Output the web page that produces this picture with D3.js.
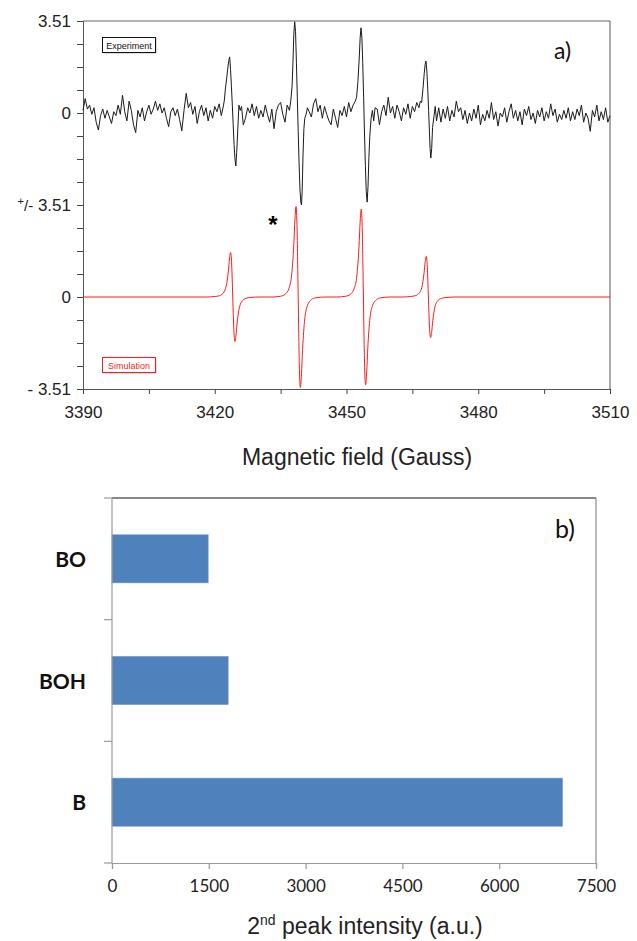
<!DOCTYPE html>
<html>
<head>
<meta charset="utf-8">
<script src="https://cdnjs.cloudflare.com/ajax/libs/d3/7.8.5/d3.min.js"></script>
<style>
  body { margin: 0; background: #fff; }
  svg { display: block; }
</style>
</head>
<body>
<div id="chart"></div>
<script>

// Panel a: EPR spectra, [field (G), intensity]
var experiment = [
  [3390.0, 0.10],[3390.5, 0.55],[3391.0, 0.15],[3391.5, 0.30],[3392.0,-0.05],[3392.5, 0.20],[3393.0,-0.35],[3393.5,-0.65],[3394.0,-0.10],[3394.5, 0.15],
  [3395.0,-0.20],[3395.5, 0.10],[3396.0,-0.15],[3396.5,-0.40],[3397.0, 0.05],[3397.5,-0.10],[3398.0, 0.30],[3398.5,-0.05],[3399.0, 0.68],[3399.5, 0.05],
  [3400.0,-0.30],[3400.5, 0.45],[3401.0, 0.10],[3401.5,-0.45],[3402.0,-0.75],[3402.5, 0.10],[3403.0,-0.15],[3403.5, 0.20],[3404.0,-0.30],[3404.5, 0.05],
  [3405.0, 0.30],[3405.5,-0.05],[3406.0, 0.15],[3406.5, 0.45],[3407.0, 0.10],[3407.5, 0.35],[3408.0, 0.00],[3408.5, 0.20],[3409.0,-0.20],[3409.5,-0.52],
  [3410.0, 0.05],[3410.5, 0.20],[3411.0,-0.10],[3411.5, 0.15],[3412.0,-0.25],[3412.5,-0.68],[3413.0, 0.10],[3413.5, 0.75],[3414.0, 0.20],[3414.5, 0.40],
  [3415.0,-0.05],[3415.5, 0.25],[3416.0,-0.40],[3416.5, 0.05],[3417.0, 0.30],[3417.5,-0.10],[3418.0, 0.20],[3418.5,-0.30],[3419.0, 0.10],[3419.5,-0.20],
  [3420.0, 0.25],[3420.5, 0.05],[3421.0, 0.35],[3421.5,-0.10],[3422.0, 0.30],
  [3422.2, 0.50],[3422.4, 0.88],[3422.7, 1.30],[3423.0, 1.75],[3423.2, 2.00],[3423.4, 2.14],[3423.6, 1.65],[3423.8, 1.00],[3424.0, 0.30],[3424.2,-0.45],
  [3424.4,-1.20],[3424.6,-1.75],[3424.8,-2.02],[3425.0,-1.50],[3425.2,-0.80],[3425.5, 0.30],[3425.8, 0.10],[3426.1, 0.25],[3426.5,-0.45],
  [3427.0,-0.20],[3427.5, 0.20],[3428.0, 0.00],[3428.5, 0.35],[3429.0,-0.10],[3429.5, 0.25],[3430.0,-0.20],[3430.5, 0.10],[3431.0,-0.15],[3431.5, 0.30],
  [3432.0,-0.05],[3432.5,-0.35],[3433.0, 0.15],[3433.5,-0.60],[3434.0, 0.05],[3434.5, 0.30],[3435.0, 0.40],[3435.5,-0.05],[3436.0,-0.35],[3436.5, 0.30],
  [3437.0, 0.10],
  [3437.3, 0.45],[3437.6, 1.00],[3437.8, 1.90],[3438.0, 3.00],[3438.2, 3.48],[3438.4, 3.10],[3438.6, 1.90],[3438.8, 0.60],[3439.0,-0.70],[3439.2,-1.90],
  [3439.4,-2.90],[3439.6,-3.40],[3439.75,-3.51],[3439.9,-3.00],[3440.1,-1.60],[3440.3,-0.60],[3440.5,-0.20],[3440.8,-0.05],[3441.1, 0.20],[3441.5, 0.05],
  [3442.0,-0.15],[3442.5, 0.35],[3443.0, 0.55],[3443.5, 0.05],[3444.0, 0.30],[3444.5,-0.20],[3445.0, 0.25],[3445.5,-0.05],[3446.0,-0.30],[3446.5,-0.45],
  [3447.0, 0.15],[3447.5,-0.20],[3448.0,-0.55],[3448.5, 0.10],[3449.0,-0.10],[3449.5, 0.25],[3450.0,-0.15],[3450.5, 0.40],[3451.0, 0.05],[3451.5, 0.30],
  [3452.0, 0.45],
  [3452.3, 0.60],[3452.6, 1.20],[3452.9, 2.10],[3453.1, 2.85],[3453.3, 3.25],[3453.5, 2.90],[3453.7, 1.90],[3453.9, 0.60],[3454.1,-0.80],[3454.3,-2.00],
  [3454.5,-3.00],[3454.7,-3.40],[3454.9,-2.80],[3455.1,-1.70],[3455.3,-0.90],[3455.6,-0.20],[3455.9, 0.10],[3456.2,-0.30],[3456.5, 0.20],
  [3457.0, 0.15],[3457.5,-0.45],[3458.0, 0.05],[3458.5, 0.30],[3459.0,-0.10],[3459.5, 0.60],[3460.0, 0.00],[3460.5, 0.25],[3461.0,-0.20],[3461.5, 0.30],
  [3462.0, 0.05],[3462.5,-0.30],[3463.0, 0.20],[3463.5,-0.05],[3464.0, 0.35],[3464.5,-0.20],[3465.0, 0.25],[3465.5, 0.05],[3466.0, 0.40],[3466.5, 0.20],
  [3466.8, 0.45],[3467.1, 0.40],[3467.4, 0.90],[3467.7, 1.50],[3467.9, 1.85],[3468.1, 1.98],[3468.3, 1.60],[3468.5, 0.90],[3468.7, 0.10],[3468.9,-0.80],
  [3469.05,-1.40],[3469.2,-1.72],[3469.4,-1.35],[3469.6,-0.55],[3469.9,-0.15],[3470.2, 0.25],[3470.5,-0.30],[3471.0, 0.20],
  [3471.5,-0.35],[3472.0, 0.15],[3472.5,-0.20],[3473.0, 0.25],[3473.5,-0.30],[3474.0, 0.10],[3474.5,-0.15],[3475.0, 0.45],[3475.5, 0.05],[3476.0, 0.20],
  [3476.5,-0.25],[3477.0, 0.10],[3477.5,-0.40],[3478.0, 0.00],[3478.5,-0.30],[3479.0, 0.15],[3479.5,-0.20],[3480.0, 0.30],[3480.5,-0.45],[3481.0,-0.05],
  [3481.5,-0.30],[3482.0, 0.10],[3482.5,-0.20],[3483.0, 0.40],[3483.5,-0.25],[3484.0, 0.05],[3484.5,-0.50],[3485.0, 0.00],[3485.5,-0.15],[3486.0, 0.20],
  [3486.5,-0.35],[3487.0, 0.05],[3487.5, 0.35],[3488.0,-0.20],[3488.5, 0.10],[3489.0,-0.30],[3489.5, 0.05],[3490.0,-0.45],[3490.5, 0.15],[3491.0,-0.10],
  [3491.5, 0.25],[3492.0,-0.25],[3492.5, 0.00],[3493.0,-0.40],[3493.5, 0.10],[3494.0,-0.15],[3494.5, 0.20],[3495.0,-0.30],[3495.5, 0.05],[3496.0,-0.20],
  [3496.5, 0.35],[3497.0,-0.10],[3497.5, 0.15],[3498.0,-0.35],[3498.5,-0.05],[3499.0,-0.25],[3499.5, 0.10],[3500.0,-0.20],[3500.5, 0.20],[3501.0,-0.30],
  [3501.5, 0.05],[3502.0,-0.25],[3502.5, 0.15],[3503.0,-0.10],[3503.5, 0.30],[3504.0,-0.35],[3504.5, 0.00],[3505.0,-0.20],[3505.5,-0.70],[3506.0, 0.10],
  [3506.5,-0.15],[3507.0, 0.30],[3507.5,-0.30],[3508.0, 0.05],[3508.5,-0.25],[3509.0, 0.20],[3509.5,-0.35],[3510.0,-0.10]
];

var simulation = [
  [3390.0, 0],
  [3418.1, 0],[3420.1, 0.02],[3421.1, 0.05],[3422.1, 0.19],[3422.6, 0.41],[3423.1, 0.99],[3423.35, 1.45],[3423.6, 1.70],[3423.85, 1.26],[3423.975, 0.68],
  [3424.1, 0],[3424.225,-0.68],[3424.35,-1.26],[3424.6,-1.70],[3424.85,-1.45],[3425.1,-0.99],[3425.6,-0.41],[3426.1,-0.19],[3427.1,-0.05],[3428.1,-0.02],[3430.1, 0],
  [3433.0, 0],[3435.0, 0.03],[3436.0, 0.10],[3437.0, 0.38],[3437.5, 0.83],[3438.0, 2.00],[3438.25, 2.93],[3438.5, 3.45],[3438.75, 2.55],[3438.875, 1.38],
  [3439.0, 0],[3439.125,-1.38],[3439.25,-2.55],[3439.5,-3.45],[3439.75,-2.93],[3440.0,-2.00],[3440.5,-0.83],[3441.0,-0.38],[3442.0,-0.10],[3443.0,-0.03],[3445.0, 0],
  [3447.85, 0],[3449.85, 0.03],[3450.85, 0.10],[3451.85, 0.37],[3452.35, 0.80],[3452.85, 1.94],[3453.1, 2.85],[3453.35, 3.35],[3453.6, 2.48],[3453.725, 1.34],
  [3453.85, 0],[3453.975,-1.34],[3454.1,-2.48],[3454.35,-3.35],[3454.6,-2.85],[3454.85,-1.94],[3455.35,-0.80],[3455.85,-0.37],[3456.85,-0.10],[3457.85,-0.03],[3459.85, 0],
  [3462.65, 0],[3464.65, 0.02],[3465.65, 0.05],[3466.65, 0.17],[3467.15, 0.37],[3467.65, 0.90],[3467.9, 1.32],[3468.15, 1.55],[3468.4, 1.15],[3468.525, 0.62],
  [3468.65, 0],[3468.775,-0.62],[3468.9,-1.15],[3469.15,-1.55],[3469.4,-1.32],[3469.65,-0.90],[3470.15,-0.37],[3470.65,-0.17],[3471.65,-0.05],[3472.65,-0.02],[3474.65, 0],
  [3510.0, 0]
];

var fieldTicks = [3390, 3405, 3420, 3435, 3450, 3465, 3480, 3495, 3510];
var fieldLabels = [3390, 3420, 3450, 3480, 3510];
var spectrumTicks = [-3.51, -2.6325, -1.755, -0.8775, 0, 0.8775, 1.755, 2.6325, 3.51,
                     4.3875, 5.265, 6.1425, 7.02, 7.8975, 8.775, 9.6525, 10.53];
var expOffset = 7.02;

// Panel b: 2nd peak intensity per sample
var samples = ["BO", "BOH", "B"];
var peakIntensity = [1490, 1800, 6980];
var intensityTicks = [0, 1500, 3000, 4500, 6000, 7500];

var svg = d3.select("#chart").append("svg")
  .attr("width", 637)
  .attr("height", 941);

// ---------- panel a ----------
var a = {left: 83, right: 610, top: 21, bottom: 389};
var xField = d3.scaleLinear().domain([3390, 3510]).range([a.left, a.right]);
var yInt = d3.scaleLinear().domain([-3.51, 10.53]).range([a.bottom, a.top]);

var gA = svg.append("g");

// frame: top and right
gA.append("line").attr("x1", a.left).attr("x2", a.right).attr("y1", a.top).attr("y2", a.top)
  .attr("stroke", "#9a9a9a").attr("stroke-width", 1.5);
gA.append("line").attr("x1", a.right).attr("x2", a.right).attr("y1", a.top).attr("y2", a.bottom)
  .attr("stroke", "#555").attr("stroke-width", 1);

var xAxisA = d3.axisBottom(xField)
  .tickValues(fieldTicks)
  .tickSize(5)
  .tickFormat(function(d) { return fieldLabels.indexOf(d) >= 0 ? d : ""; });
var gxA = gA.append("g")
  .attr("transform", "translate(0," + a.bottom + ")")
  .call(xAxisA);
gxA.selectAll("text")
  .attr("dy", 0).attr("y", 29)
  .style("font-family", "'Liberation Sans', Arial, sans-serif")
  .style("font-size", "17px").attr("fill", "#222");

var yAxisA = d3.axisLeft(yInt)
  .tickValues(spectrumTicks)
  .tickSize(6)
  .tickFormat("");
gA.append("g")
  .attr("transform", "translate(" + a.left + ",0)")
  .call(yAxisA);

gA.selectAll(".domain").attr("stroke", "#555");
gA.selectAll(".tick line").attr("stroke", "#444");

// y labels of the two stacked traces
var yLab = gA.append("g")
  .style("font-family", "'Liberation Sans', Arial, sans-serif")
  .attr("fill", "#222")
  .attr("text-anchor", "end");
yLab.append("text").attr("x", 71).attr("y", yInt(10.53) + 6).style("font-size", "17px").text("3.51");
yLab.append("text").attr("x", 71).attr("y", yInt(7.02) + 6).style("font-size", "17px").text("0");
var pm = yLab.append("text").attr("x", 71).attr("y", yInt(3.51) + 6).style("font-size", "17px");
pm.append("tspan").style("font-size", "11px").attr("dy", -6).text("+");
pm.append("tspan").style("font-size", "15px").attr("dy", 6).text("/-");
pm.append("tspan").text(" 3.51");
yLab.append("text").attr("x", 71).attr("y", yInt(0) + 6).style("font-size", "17px").text("0");
yLab.append("text").attr("x", 71).attr("y", yInt(-3.51) + 6).style("font-size", "17px").text("- 3.51");

// traces
var expLine = d3.line()
  .x(function(d) { return xField(d[0]); })
  .y(function(d) { return yInt(d[1] + expOffset); });
var simLine = d3.line()
  .x(function(d) { return xField(d[0]); })
  .y(function(d) { return yInt(d[1]); })
  .curve(d3.curveMonotoneX);

gA.append("path").datum(experiment)
  .attr("d", expLine)
  .attr("fill", "none").attr("stroke", "#1a1a1a").attr("stroke-width", 1);
gA.append("path").datum(simulation)
  .attr("d", simLine)
  .attr("fill", "none").attr("stroke", "#ff1a1a").attr("stroke-width", 1);

// legend boxes
function legendBox(x, y, label, color) {
  gA.append("rect").attr("x", x + 1).attr("y", y + 1).attr("width", 53).attr("height", 15)
    .attr("fill", "#bbb");
  gA.append("rect").attr("x", x).attr("y", y).attr("width", 53).attr("height", 15)
    .attr("fill", "#fff").attr("stroke", color).attr("stroke-width", 1);
  gA.append("text").attr("x", x + 26.5).attr("y", y + 11)
    .attr("text-anchor", "middle")
    .style("font-family", "'Liberation Sans', Arial, sans-serif")
    .style("font-size", "9px")
    .attr("fill", color)
    .text(label);
}
legendBox(102.5, 37.5, "Experiment", "#111");
legendBox(102.5, 357.5, "Simulation", "#ff1a1a");

gA.append("text").attr("x", 273).attr("y", 233)
  .attr("text-anchor", "middle")
  .style("font-family", "'Liberation Sans', Arial, sans-serif")
  .style("font-size", "24px").style("font-weight", "bold")
  .text("*");

gA.append("text").attr("x", 554).attr("y", 59)
  .style("font-family", "Lato, 'Open Sans', sans-serif")
  .style("font-size", "23px").attr("fill", "#111")
  .text("a)");

gA.append("text").attr("x", 357).attr("y", 465)
  .attr("text-anchor", "middle")
  .style("font-family", "'Liberation Sans', Arial, sans-serif")
  .style("font-size", "23px").attr("fill", "#222")
  .text("Magnetic field (Gauss)");

// ---------- panel b ----------
var b = {left: 112, right: 596, top: 498, bottom: 863};
var xPeak = d3.scaleLinear().domain([0, 7500]).range([b.left, b.right]);
var yEdge = d3.scaleBand().domain(samples).range([b.top, b.bottom]).padding(0);
var yBar = d3.scaleBand().domain(samples).range([b.top, b.bottom])
  .paddingInner(0.605).paddingOuter(0.3025);

var gB = svg.append("g");

gB.append("line").attr("x1", b.left).attr("x2", b.right).attr("y1", b.top).attr("y2", b.top)
  .attr("stroke", "#111").attr("stroke-width", 1);
gB.append("line").attr("x1", b.right).attr("x2", b.right).attr("y1", b.top).attr("y2", b.bottom)
  .attr("stroke", "#777").attr("stroke-width", 1);

gB.selectAll(".bar")
  .data(samples)
  .enter()
  .append("rect")
    .attr("class", "bar")
    .attr("x", b.left)
    .attr("y", function(d) { return yBar(d); })
    .attr("width", function(d, i) { return xPeak(peakIntensity[i]) - b.left; })
    .attr("height", yBar.bandwidth())
    .attr("fill", "#4f81bd")
    .attr("stroke", "#6d96c8").attr("stroke-width", 0.6);

var xAxisB = d3.axisBottom(xPeak).tickValues(intensityTicks).tickSize(6).tickFormat(d3.format("d"));
var gxB = gB.append("g")
  .attr("transform", "translate(0," + b.bottom + ")")
  .call(xAxisB);
gxB.selectAll("text")
  .attr("dy", 0).attr("y", 29)
  .style("font-family", "Lato, 'Open Sans', sans-serif")
  .style("font-size", "17px").attr("fill", "#222");

// category axis: line with ticks at band edges
gB.append("line").attr("x1", b.left).attr("x2", b.left).attr("y1", b.top).attr("y2", b.bottom)
  .attr("stroke", "#999").attr("stroke-width", 1.2);
var edges = samples.map(function(d) { return yEdge(d); }).concat([b.bottom]);
gB.selectAll(".ytick")
  .data(edges)
  .enter()
  .append("line")
    .attr("class", "ytick")
    .attr("x1", b.left - 8).attr("x2", b.left)
    .attr("y1", function(d) { return d; }).attr("y2", function(d) { return d; })
    .attr("stroke", "#999").attr("stroke-width", 1.2);

gB.selectAll(".ylab")
  .data(samples)
  .enter()
  .append("text")
    .attr("class", "ylab")
    .attr("x", 86)
    .attr("y", function(d) { return yBar(d) + yBar.bandwidth() / 2 + 8; })
    .attr("text-anchor", "end")
    .style("font-family", "Lato, 'Open Sans', sans-serif")
    .style("font-size", "21px").style("font-weight", "bold")
    .attr("fill", "#111")
    .text(function(d) { return d; });

gxB.select(".domain").attr("stroke", "#999").attr("stroke-width", 1.2);
gxB.selectAll(".tick line").attr("stroke", "#999").attr("stroke-width", 1.2);

gB.append("text").attr("x", 555).attr("y", 538)
  .style("font-family", "Lato, 'Open Sans', sans-serif")
  .style("font-size", "25px").attr("fill", "#111")
  .text("b)");

var xt = gB.append("text").attr("x", 365).attr("y", 934)
  .attr("text-anchor", "middle")
  .style("font-family", "'Liberation Sans', Arial, sans-serif")
  .style("font-size", "23px").attr("fill", "#222");
xt.append("tspan").text("2");
xt.append("tspan").style("font-size", "14px").attr("dy", -9).text("nd");
xt.append("tspan").attr("dy", 9).text(" peak intensity (a.u.)");

</script>
</body>
</html>
